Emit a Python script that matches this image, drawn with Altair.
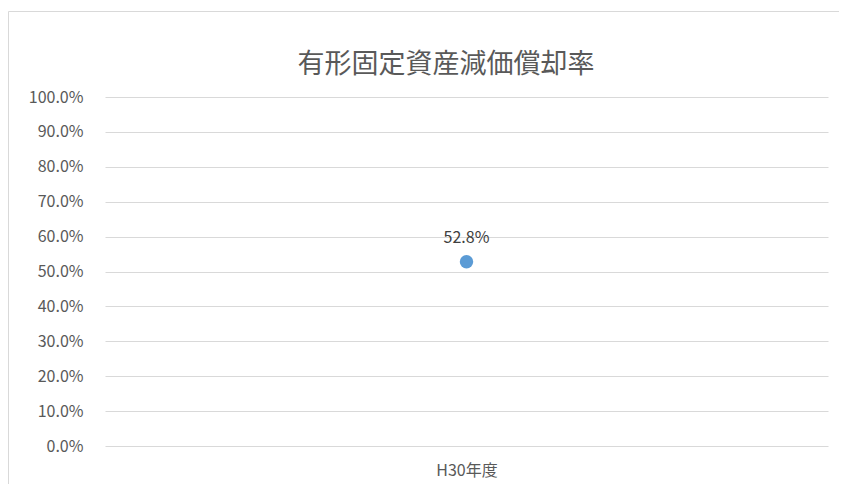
import altair as alt
import pandas as pd

categories = ["H30年度"]
values = [0.528]
labels = ["52.8%"]
title_text = "有形固定資産減価償却率"
y_ticks = [0.0, 0.1, 0.2, 0.3, 0.4, 0.5, 0.6, 0.7, 0.8, 0.9, 1.0]

df = pd.DataFrame({"cat": categories, "val": values, "lab": labels})

W, H = 723, 349
FONT = "Noto Sans CJK JP"

base = alt.Chart(df)

left_edge = base.mark_rule(color="#D9D9D9", strokeWidth=1).encode(
    x=alt.value(-96.5), y=alt.value(-85.5), y2=alt.value(420)
)
top_edge = base.mark_rule(color="#D9D9D9", strokeWidth=1).encode(
    x=alt.value(-96.5), x2=alt.value(800), y=alt.value(-85.5)
)

title = base.mark_text(font=FONT, fontSize=27, color="#595959", baseline="middle").encode(
    x=alt.value(341), y=alt.value(-32), text=alt.value(title_text)
)

xenc = alt.X("cat:N", title=None,
             axis=alt.Axis(labelAngle=0, labelFont=FONT, labelFontSize=16, labelColor="#595959",
                           ticks=False, domain=False, labelPadding=16, grid=False))
yenc = alt.Y("val:Q", title=None, scale=alt.Scale(domain=[0, 1]),
             axis=alt.Axis(format=".1%", values=y_ticks, labelFont=FONT,
                           labelFontSize=16, labelColor="#595959", ticks=False, domain=False,
                           labelOverlap=False, labelPadding=22, gridColor="#D9D9D9", gridWidth=1))

pts = base.mark_circle(size=180, color="#5B9BD5", opacity=1).encode(x=xenc, y=yenc)

txt = base.mark_text(font=FONT, fontSize=16, color="#404040", baseline="bottom", dy=-16).encode(
    x=xenc, y=yenc, text="lab:N"
)

chart = alt.layer(left_edge, top_edge, title, pts, txt).properties(
    width=W, height=H,
    background="white",
    autosize=alt.AutoSizeParams(type="none"),
    padding={"left": 97, "top": 89, "right": 11, "bottom": 38},
).configure_view(strokeWidth=0)

chart.save("out.html", embed_options={"renderer": "svg", "actions": False})
